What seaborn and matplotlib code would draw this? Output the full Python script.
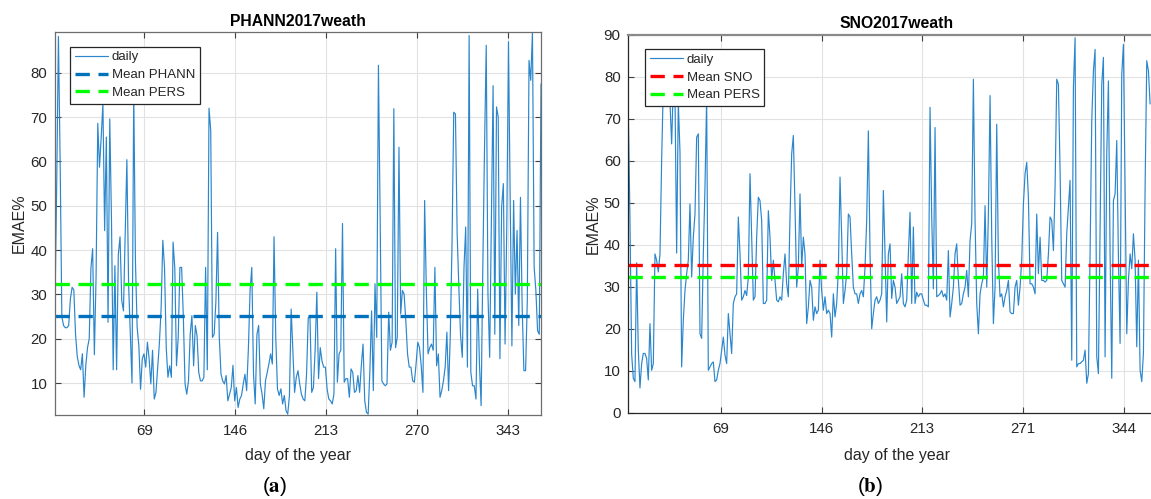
import numpy as np
import matplotlib
matplotlib.use("Agg")
import matplotlib.pyplot as plt
import seaborn as sns

# ---------------- data ----------------
# panel (a): PHANN daily EMAE% (one value per sample)
daily_a = [27.5, 55, 88.2, 60, 25, 23, 22.5, 22.5, 23, 29, 31.6, 31, 21, 16, 14, 13, 16.6, 6.8, 14, 18,
           20, 36, 40.3, 16.4, 34, 68.6, 58.7, 65.5, 73, 44.4, 65.5, 23.7, 69.6, 47, 13, 36.5, 13, 39, 43, 28.6,
           26.3, 43.7, 60.4, 32.4, 21, 10, 76, 37.6, 22.6, 18.4, 8.6, 15.5, 16.6, 13.6, 19.2, 15.5, 9.8, 17.4, 6.4, 7.9,
           13.6, 19, 26.7, 42.2, 36.1, 18, 11.3, 13.9, 11.3, 41.8, 36, 13.9, 20.3, 36.1, 36.1, 24.8, 9.8, 7.5, 10.5, 21,
           25.2, 13.9, 23, 20.7, 12.4, 10.5, 10.5, 11.3, 36.1, 13, 72, 67, 20.3, 21, 28.2, 44, 20.3, 12, 10.5, 9.8,
           11.7, 6, 7.5, 9, 14, 6, 9, 4.5, 6.4, 7.2, 9.8, 12, 8.3, 17.7, 30.9, 36.1, 12, 5.3, 21, 23,
           9.8, 7.5, 4.2, 10.5, 12.4, 14.3, 16.6, 14.3, 43, 20.3, 8.7, 7.2, 8.7, 5.3, 7.2, 3.8, 3, 7.2, 26.7, 17.4,
           7.9, 11.3, 12.8, 9.8, 7.5, 6.4, 6, 12, 24.8, 24.8, 7.9, 9, 17.4, 30.5, 11, 18, 15, 13.6, 13.6, 8.7,
           6.4, 6, 5.3, 7.5, 40.3, 10.2, 16.6, 17.4, 46, 10.2, 11, 11, 6.8, 13.2, 12.4, 7.9, 8.3, 11.7, 7.9, 13.9,
           18.8, 6, 3.4, 3, 12.8, 26.3, 8.3, 32.4, 20.3, 81.7, 47.4, 10.5, 9.8, 9.4, 9.8, 26, 17.4, 19.2, 71.9, 18,
           20.3, 63.2, 25.6, 30.9, 30.1, 24.1, 16.6, 13.6, 13.6, 10.5, 10.2, 14.3, 19.2, 18, 13.9, 7.9, 51.2, 30.9, 16.6, 18,
           18.8, 17.4, 36.1, 13.9, 16.6, 6.8, 8.3, 10.5, 13.6, 21.5, 8.3, 21, 41.4, 71.1, 70.7, 43.7, 31.6, 20.7, 15.8, 36.1,
           45.2, 13.6, 88.4, 12.4, 9.4, 9.4, 6.4, 31.2, 14.7, 4.9, 36.1, 63.2, 86.2, 30.1, 15.8, 46.7, 77.1, 21, 72.3, 70,
           15.5, 49.7, 55, 18.8, 45.2, 87, 51.2, 18.4, 51.2, 30.1, 44.4, 23, 51.9, 27.1, 12.8, 12.8, 28.6, 82.8, 78.3, 89.2,
           36.1, 30.9, 21.8, 21, 77.5]
mean_phann = 25.1
mean_pers_a = 32.3

# panel (b): SNO daily EMAE%
daily_b = [72,
           45.8, 14, 8.2, 7.4, 35.7, 15, 5.9, 11.7, 14.1, 14.1, 12.9, 7.8, 21.2, 10.1, 11.7, 37.8, 36.3, 33.5, 37.8, 60,
           78, 82, 80, 76, 74, 64, 78, 76, 38, 74, 62, 10.9, 22, 29.1, 33.1, 36.3, 49.7, 32.3, 41.8, 47.3,
           65.6, 66.4, 18.8, 17.7, 37.8, 53.7, 75, 10.1, 10.9, 11.7, 12.1, 7.4, 7.8, 10.1, 11.7, 14.9, 18, 13.7, 11.7, 23.6,
           18.8, 14.1, 26, 27.6, 28.3, 46.6, 37.8, 26.8, 27.6, 29.1, 27.9, 32.3, 56.9, 41.8, 26.8, 27.6, 41.8, 51.3, 50.5, 45.8,
           26, 26, 26.8, 48.1, 41.8, 31.5, 36.3, 31.5, 26.8, 26.4, 27.6, 26.8, 33.1, 37.8, 30.7, 27.6, 46.6, 61.6, 66, 48.9,
           29.9, 34.7, 52.1, 34.7, 41.8, 37.8, 21.2, 25.2, 31.5, 29.9, 22, 25.2, 23.6, 24.4, 36.3, 29.1, 24.4, 27.6, 23.6, 24.4,
           23.6, 18, 28.3, 22.8, 26, 33.9, 56.1, 41.8, 26, 29.1, 33.1, 47.3, 46.6, 37.8, 29.9, 28.3, 28.3, 26, 28.3, 29.1,
           27.6, 34.7, 45.8, 67.1, 37.8, 20, 23.6, 26.8, 27.6, 26, 26.8, 28.3, 52.9, 37.8, 21.6, 37.8, 40.2,
           27.2, 31.5, 29.9, 26, 26.8, 27.6, 33.1, 26, 25.2, 26.8, 37.8, 47.7, 26, 44.2, 26, 28.7, 27.6, 28.3, 28.3, 26.8,
           25.6, 25.6, 25.2, 72.7, 46.6, 29.5, 67.9, 27.6, 27.9, 28.3, 29.1, 27.6, 28.3, 26.8, 38.6, 22.8, 26, 29.9, 37.8, 40.2,
           31.5, 25.6, 26, 28.3, 29.9, 33.9, 27.6, 41, 45, 79.4, 45.8, 26, 18.8, 28.3, 30.7, 32.3, 49.3, 29.9, 47.3, 75.5,
           41.8, 21.2, 29.9, 68.7, 36.3, 27.6, 28.3, 25.2, 27.6, 29.1, 31.5, 24, 23.6, 23.6, 29.9, 31.5, 25.6, 29.9, 36.3, 49.7,
           56.9, 59.6, 51.3, 30.7, 30.7, 29.9, 28.3, 47.3, 33.1, 41.8, 31.5, 31.5, 31.1, 31.5, 37.8, 46.6, 45.8, 38.6, 53.7, 79.4,
           78.2, 57.6, 31.5, 30.7, 29.9, 42.6, 48.9, 55.3, 12.5, 77.4, 89.3, 10.9, 11.7, 11.7, 12.1, 12.5, 14.9, 7, 9.3, 37.8,
           69.5, 81.4, 86.5, 13.3, 9.3, 44.2, 78.2, 84.6, 13.3, 61.6, 79, 37.8, 8.2, 50.5, 52.1, 64.8, 37.1, 16.5, 80.6, 87.7,
           53.7, 18.8, 31.5, 37.8, 34.3, 42.6, 36.3, 15.7, 36.3, 10.1, 7.4, 14.1, 53.7, 83.8, 81.4, 73.5]
mean_sno = 35.2
mean_pers_b = 32.2

# x axes: sample index with day-of-year tick labels
n_samples = 268
span_b = 260.2            # last visible sample index of panel (b) reads
ticks_a = [50, 100, 150, 200, 250]
labels_a = ["69", "146", "213", "270", "343"]
ticks_b = [47, 97, 147, 197, 247]
labels_b = ["69", "146", "213", "271", "344"]
yticks_a = [10, 20, 30, 40, 50, 60, 70, 80]
yticks_b = [0, 10, 20, 30, 40, 50, 60, 70, 80, 90]

# ---------------- style ----------------
sns.set_theme(style="white")
plt.rcParams["font.family"] = ["Liberation Sans", "DejaVu Sans"]
plt.rcParams["mathtext.fontset"] = "stix"

W, H = 1151, 499
fig = plt.figure(figsize=(W / 100, H / 100), dpi=100)
fig.patch.set_facecolor("white")

LINE = "#0072BD"
DAILY = "#2b86cc"
TXT = "#262626"


def px_axes(l, t, r, b):
    return fig.add_axes([l / W, 1 - b / H, (r - l) / W, (b - t) / H])


ax_a = px_axes(55, 32, 541, 415)
ax_b = px_axes(628.3, 34.7, 1165.8, 412.7)

panels = [
    (ax_a, daily_a, np.linspace(1, n_samples, len(daily_a)), mean_phann, "Mean PHANN", LINE,
     mean_pers_a, "PHANN2017weath", ticks_a, labels_a, yticks_a, (min(daily_a) - 0.2, max(daily_a))),
    (ax_b, daily_b, np.linspace(1, span_b, len(daily_b)), mean_sno, "Mean SNO", "#FF0000",
     mean_pers_b, "SNO2017weath", ticks_b, labels_b, yticks_b, (0, 90)),
]

for (ax, vals, xs, m1, m1lab, m1col, m2, title, xt, xl, yt, ylim) in panels:
    sns.lineplot(x=xs, y=vals, ax=ax, color=DAILY, lw=0.85, label="daily")
    ax.axhline(m1, color=m1col, lw=2.4, dashes=(4.3, 2.6), label=m1lab)
    ax.axhline(m2, color="#00FF00", lw=2.4, dashes=(4.3, 2.6), label="Mean PERS")
    ax.set_xlim(1, n_samples)
    ax.set_ylim(*ylim)
    ax.set_xticks(xt)
    ax.set_xticklabels(xl)
    ax.set_yticks(yt)
    ax.grid(True, color="#e2e2e2", lw=0.8)
    ax.set_axisbelow(True)
    ax.tick_params(axis="both", which="both", direction="in", length=4, width=0.8,
                   top=True, right=True, bottom=True, left=True,
                   labelsize=10.8, labelcolor=TXT, color="#404040")
    ax.tick_params(axis="x", pad=6.5)
    ax.tick_params(axis="y", pad=5.5)
    ax.set_title(title, fontsize=11.3, fontweight="bold", color="black", pad=4.5)
    ax.set_xlabel("day of the year", fontsize=11.5, color=TXT)
    ax.set_ylabel("EMAE%", fontsize=11.5, color=TXT)
    leg = ax.legend(loc="upper left", bbox_to_anchor=(0.031, 0.962), fontsize=9.5,
                    frameon=True, fancybox=False, framealpha=1, edgecolor="#262626",
                    handlelength=2.5, handletextpad=0.3, labelspacing=0.42,
                    borderpad=0.35, borderaxespad=0)
    leg.get_frame().set_linewidth(0.9)
    for t in leg.get_texts():
        t.set_color(TXT)

# spines
for s in ax_a.spines.values():
    s.set_color("#6e6e6e")
    s.set_linewidth(0.9)
for k, s in ax_b.spines.items():
    s.set_linewidth(0.9)
    s.set_color("#262626" if k in ("left", "bottom") else "#8a8a8a")
ax_b.spines["top"].set_linewidth(1.6)

ax_a.xaxis.set_label_coords(0.5, -0.085)
ax_a.xaxis.label.set_va("top")
ax_b.xaxis.set_label_coords(0.5, -0.093)
ax_b.xaxis.label.set_va("top")
ax_a.yaxis.set_label_coords(-0.058, 0.5)
ax_b.yaxis.set_label_coords(-0.052, 0.5)

fig.text(275 / W, 1 - 487 / H, r"($\mathbf{a}$)", ha="center", va="center", fontsize=15, color="black")
fig.text(870 / W, 1 - 487 / H, r"($\mathbf{b}$)", ha="center", va="center", fontsize=15, color="black")

fig.savefig("out.png", dpi=100, facecolor="white")
